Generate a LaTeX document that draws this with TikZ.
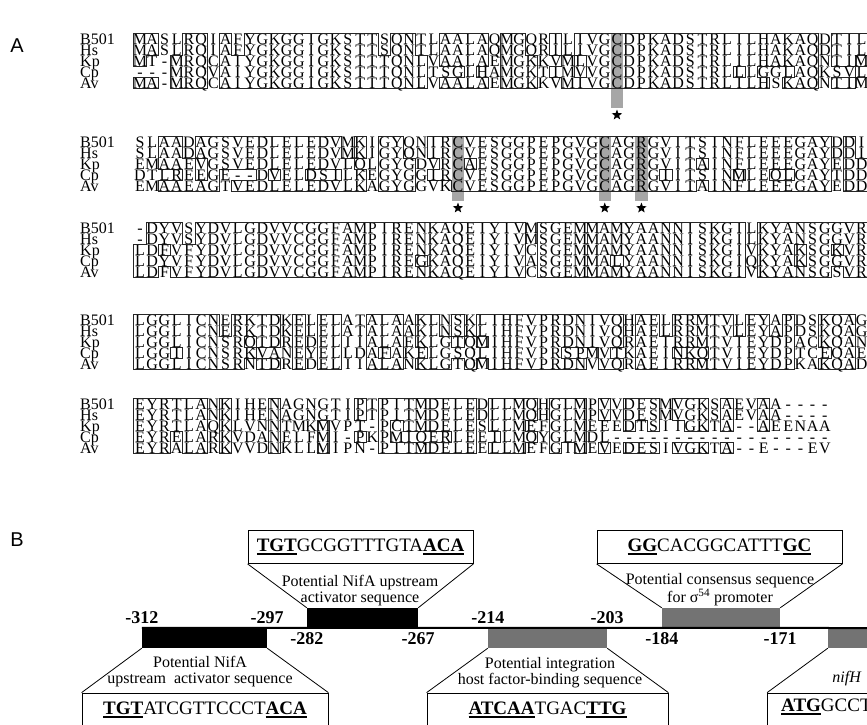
\documentclass[tikz,border=0pt]{standalone}
\usepackage{fontspec}
\setmainfont{Liberation Serif}
\newfontfamily\panelfont{Liberation Sans}
\usepackage{tikz}
\usetikzlibrary{shapes.geometric,positioning}

% alignment grid, 1 unit = 1pt
\newcommand{\colw}{12.23}
\newcommand{\rowh}{11}
\newcommand{\colzero}{140}

\newcommand{\ubf}[1]{\vtop{\hbox{\textbf{#1}}\kern1.8pt\hrule height 1.6pt}}

\newcommand{\putres}[4]{\node[res] (#1) at (#2,#3) {#4};}
\newcommand{\putname}[4]{\node[seqname] (#1) at (#2,#3) {#4};}
\newcommand{\putedge}[4]{\draw[boxline] (#1,#2) -- (#3,#4);}
\newcommand{\putshade}[4]{\fill[cshade] (#1,#2) rectangle (#3,#4);}
\newcommand{\putstar}[3]{\node[starmark] (#1) at (#2,#3) {};}

\ExplSyntaxOn
\int_new:N \g_aln_blk_int
\int_new:N \l_aln_len_int
\int_new:N \l_aln_cnt_int
\tl_new:N \l_aln_cons_tl
\tl_new:N \l_aln_x_tl
\tl_new:N \l_aln_y_tl
\clist_const:Nn \c_aln_names_clist { B501, Hs, Kp, Cp, Av }
\int_step_inline:nn { 5 } { \str_new:c { l_aln_row_ #1 _str } }

\cs_new:Npn \aln_item:nn #1#2
  { \exp_args:Nc \str_item:Nn { l_aln_row_ \int_eval:n {#1} _str } {#2} }
\cs_new:Npn \aln_if_marked:nnTF #1#2#3#4
  { \cs_if_exist:cTF { aln_m_ \int_use:N \g_aln_blk_int _ \int_eval:n {#1} _ \int_eval:n {#2} } {#3} {#4} }

% residue #1 of column #2 is consensus if at least three rows carry it
\cs_new_protected:Npn \aln_count:nn #1#2
  {
    \int_zero:N \l_aln_cnt_int
    \int_step_inline:nn { 5 }
      {
        \str_if_eq:eeT { \aln_item:nn {#1} {#2} } { \aln_item:nn {##1} {#2} }
          { \int_incr:N \l_aln_cnt_int }
      }
    \int_compare:nNnT { \l_aln_cnt_int } > { 2 }
      { \tl_set:Nx \l_aln_cons_tl { \aln_item:nn {#1} {#2} } }
  }
\cs_new_protected:Npn \aln_mark:n #1
  {
    \tl_clear:N \l_aln_cons_tl
    \int_step_inline:nn { 5 }
      {
        \str_if_eq:eeF { \aln_item:nn {##1} {#1} } { - }
          { \aln_count:nn {##1} {#1} }
      }
    \tl_if_empty:NF \l_aln_cons_tl
      {
        \int_step_inline:nn { 5 }
          {
            \str_if_eq:eeT { \aln_item:nn {##1} {#1} } { \l_aln_cons_tl }
              { \cs_gset:cpn { aln_m_ \int_use:N \g_aln_blk_int _ ##1 _ #1 } { } }
          }
      }
  }
\cs_new_protected:Npn \aln_edge:nnnn #1#2#3#4
  { \use:x { \exp_not:N \putedge { \fp_eval:n {#1} } { \fp_eval:n {#2} } { \fp_eval:n {#3} } { \fp_eval:n {#4} } } }

% one residue: letter, then the box sides facing unmarked neighbours
\cs_new_protected:Npn \aln_cell:nnn #1#2#3
  {
    \tl_set:Nx \l_aln_x_tl { \fp_eval:n { \colzero + ( #2 - 1 ) * \colw } }
    \tl_set:Nx \l_aln_y_tl { \fp_eval:n { #3 + ( #1 - 1 ) * \rowh } }
    \use:x
      {
        \exp_not:N \putres
          { r \int_use:N \g_aln_blk_int - #1 - #2 }
          { \l_aln_x_tl } { \fp_eval:n { \l_aln_y_tl + 5.2 } }
          { \aln_item:nn {#1} {#2} }
      }
    \aln_if_marked:nnTF {#1} {#2}
      {
        \aln_if_marked:nnTF {#1} { #2 - 1 } { }
          { \aln_edge:nnnn { \l_aln_x_tl - \colw / 2 } { \l_aln_y_tl - \rowh / 2 }
                           { \l_aln_x_tl - \colw / 2 } { \l_aln_y_tl + \rowh / 2 } }
        \aln_if_marked:nnTF {#1} { #2 + 1 } { }
          { \aln_edge:nnnn { \l_aln_x_tl + \colw / 2 } { \l_aln_y_tl - \rowh / 2 }
                           { \l_aln_x_tl + \colw / 2 } { \l_aln_y_tl + \rowh / 2 } }
        \aln_if_marked:nnTF { #1 - 1 } {#2} { }
          { \aln_edge:nnnn { \l_aln_x_tl - \colw / 2 } { \l_aln_y_tl - \rowh / 2 }
                           { \l_aln_x_tl + \colw / 2 } { \l_aln_y_tl - \rowh / 2 } }
        \aln_if_marked:nnTF { #1 + 1 } {#2} { }
          { \aln_edge:nnnn { \l_aln_x_tl - \colw / 2 } { \l_aln_y_tl + \rowh / 2 }
                           { \l_aln_x_tl + \colw / 2 } { \l_aln_y_tl + \rowh / 2 } }
      }
      { }
  }

% #1 y of first row, #2 the five rows, #3 shaded columns, #4 y of stars
\NewDocumentCommand \alnblock { m m m m }
  {
    \int_gincr:N \g_aln_blk_int
    \int_zero:N \l_aln_cnt_int
    \clist_map_inline:nn {#2}
      {
        \int_incr:N \l_aln_cnt_int
        \str_set:cn { l_aln_row_ \int_use:N \l_aln_cnt_int _str } {##1}
      }
    \int_set:Nn \l_aln_len_int { \exp_args:Nc \str_count:N { l_aln_row_1_str } }
    \clist_map_inline:nn {#3}
      {
        \use:x
          {
            \exp_not:N \putshade
              { \fp_eval:n { \colzero + ( ##1 - 1.5 ) * \colw } }
              { \fp_eval:n { #1 - \rowh / 2 } }
              { \fp_eval:n { \colzero + ( ##1 - 0.5 ) * \colw } }
              { \fp_eval:n { #4 - 7 } }
            \exp_not:N \putstar
              { st \int_use:N \g_aln_blk_int - ##1 }
              { \fp_eval:n { \colzero + ( ##1 - 1 ) * \colw } }
              { #4 }
          }
      }
    \int_step_inline:nn { 5 }
      {
        \use:x
          {
            \exp_not:N \putname { nm \int_use:N \g_aln_blk_int - ##1 }
              { 80 } { \fp_eval:n { #1 + ( ##1 - 1 ) * \rowh + 5.2 } }
              { \clist_item:Nn \c_aln_names_clist {##1} }
          }
      }
    \int_step_inline:nn { \l_aln_len_int } { \aln_mark:n {##1} }
    \int_step_inline:nn { \l_aln_len_int }
      { \int_step_inline:nn { 5 } { \aln_cell:nnn {####1} {##1} {#1} } }
  }
\ExplSyntaxOff

\begin{document}
\begin{tikzpicture}[x=1pt, y=-1pt,
  res/.style={inner sep=0pt, anchor=base, font=\fontsize{16}{16}\selectfont},
  seqname/.style={inner sep=0pt, anchor=base west, font=\fontsize{16}{16}\selectfont},
  boxline/.style={draw=black!85, line width=0.9pt, line cap=rect},
  cshade/.style={fill=black!35},
  starmark/.style={star, star points=5, star point ratio=2.4, fill=black, inner sep=0pt, minimum size=11pt},
  panel/.style={inner sep=0pt, font=\panelfont\fontsize{20}{20}\selectfont},
  seqbox/.style={draw, line width=0.8pt, minimum height=33pt, inner sep=0pt, font=\fontsize{19}{19}\selectfont},
  blackbar/.style={fill=black, minimum height=20pt, inner sep=0pt},
  greybar/.style={fill=black!55, minimum height=20pt, inner sep=0pt},
  note/.style={align=center, inner sep=0pt, font=\fontsize{16}{16}\selectfont},
  bpnum/.style={inner sep=0pt, font=\bfseries\fontsize{18}{18}\selectfont},
  trap/.style={line width=0.8pt},
  mainline/.style={line width=2pt},
  ]
\useasboundingbox (0,0) rectangle (867,724);
\clip (0,0) rectangle (867,724);

% A: alignment
\node[panel] (lblA) at (17,46) {A};
\alnblock{39}{MASLRQIAFYGKGGIGKSTTSQNTLAALAQMGQRILIVGCDPKADSTRLILHAKAQDTIL,
  MASLRQIAFYGKGGIGKSTTSQNTLAALAQMGQRILIVGCDPKADSTRLILHAKAQDTIL,
  MT-MRQCAIYGKGGIGKSTTTQNLVAALAEMGKKVMLVGCDPKADSTRLILHAKAQNTIM,
  ---MRQVAIYGKGGIGKSTTTQNLTSGLHAMGKTIMVVGCDPKADSTRLLLGGLAQKSVL,
  MA-MRQCAIYGKGGIGKSTTTQNLVAALAEMGKKVMIVGCDPKADSTRLILHSKAQNTIM}{40}{115}
\alnblock{142}{SLAADAGSVEDLELEDVMKIGYQNIRCVESGGPEPGVGCAGRGVITSINFLEEEGAYDDI,
  SLAADAGSVEDLELEDVMKIGYQNIRCVESGGPEPGVGCAGRGVITSINFLEEEGAYDDI,
  EMAAEVGSVEDLELEDVLQLGYGDVRCAESGGPEPGVGCAGRGVITAINFLEEEGAYEDD,
  DTLREEGE--DVELDSILKEGYGGIRCVESGGPEPGVGCAGRGIITSINMLEQLGAYTDD,
  EMAAEAGTVEDLELEDVLKAGYGGVKCVESGGPEPGVGCAGRGVITAINFLEEEGAYEDD}{27,39,42}{208}
\alnblock{228}{-DYVSYDVLGDVVCGGFAMPIRENKAQEIYIVMSGEMMAMYAANNISKGILKYANSGGVR,
  -DYVSYDVLGDVVCGGFAMPIRENKAQEIYIVMSGEMMAMYAANNISKGILKYANSGGVR,
  LDFVFYDVLGDVVCGGFAMPIRENKAQEIYIVCSGEMMAMYAANNISKGIVKYAKSGKVR,
  LDYVFYDVLGDVVCGGFAMPIREGKAQEIYIVASGEMMALYAANNISKGIQKYAKSGGVR,
  LDFVFYDVLGDVVCGGFAMPIRENKAQEIYIVCSGEMMAMYAANNISKGIVKYANSGSVR}{}{0}
\alnblock{320}{LGGLICNERKTDKELELATALAAKLNSKLIHFVPRDNIVQHAELRRMTVLEYAPDSKQAG,
  LGGLICNERKTDKELELATALAAKLNSKLIHFVPRDNIVQHAELRRMTVLEYAPDSKQAG,
  LGGLICNSRQTDREDELIIALAEKLGTQMIHFVPRDNIVQRAEIRRMTVIEYDPACKQAN,
  LGGIICNSRKVANEYELLDAFAKELGSQLIHFVPRSPMVTKAEINKQTVIEYDPTCEQAE,
  LGGLICNSRNTDREDELIIALANKLGTQMIHFVPRDNVVQRAEIRRMTVIEYDPKAKQAD}{}{0}
\alnblock{404}{EYRTLANKIHENAGNGTIPTPITMDELEDLLMQHGLMPVVDESMVGKSAEVAA----,
  EYRTLANKIHENAGNGTIPTPITMDELEDLLMQHGLMPVVDESMVGKSAEVAA----,
  EYRTLAQKLVNNTMKMVPT-PCTMDELESLLMEFGLMEEEDTSIIGKTA--AEENAA,
  EYRELARKVDANELFMI-PKPMIQERLEEILMQYGLMDL------------------,
  EYRALARKVVDNKLLMIPN-PITMDELEELLMEFGIMEVEDESIVGKTA--E---EV}{}{0}

% B: promoter region
\node[panel] (lblB) at (17,540) {B};
\node[blackbar, minimum width=111pt] (bar1) at (362.5,618) {};
\node[greybar, minimum width=118pt] (bar2) at (721,618) {};
\node[blackbar, minimum width=125pt] (bar3) at (204.5,638) {};
\node[greybar, minimum width=119pt] (bar4) at (547.5,638) {};
\node[greybar, minimum width=120pt] (bar5) at (888,638) {};
\coordinate (lineend) at (880,628);
\draw[mainline] (bar3.north west) -- (lineend);

\node[seqbox, minimum width=225pt] (top1) at (360.5,547) {\ubf{TGT}GCGGTTTGTA\ubf{ACA}};
\node[seqbox, minimum width=245pt] (top2) at (719.5,547) {\ubf{GG}CACGGCATTT\ubf{GC}};
\node[seqbox, minimum width=246pt] (bot1) at (205,709.5) {\ubf{TGT}ATCGTTCCCT\ubf{ACA}};
\node[seqbox, minimum width=241pt] (bot2) at (547.5,709.5) {\ubf{ATCAA}TGAC\ubf{TTG}};
\node[seqbox, minimum width=241pt] (bot3) at (888,709.5) {};
\node[inner sep=0pt, anchor=west, font=\fontsize{19}{19}\selectfont] (bot3t) at (781,707) {\ubf{ATG}GCCTT};

\draw[trap] (top1.south west) -- (bar1.north west);
\draw[trap] (top1.south east) -- (bar1.north east);
\draw[trap] (top2.south west) -- (bar2.north west);
\draw[trap] (top2.south east) -- (bar2.north east);
\draw[trap] (bar3.south west) -- (bot1.north west);
\draw[trap] (bar3.south east) -- (bot1.north east);
\draw[trap] (bar4.south west) -- (bot2.north west);
\draw[trap] (bar4.south east) -- (bot2.north east);
\draw[trap] (bar5.south west) -- (bot3.north west);

\node[note] (note1) at (360,591) {Potential NifA upstream\\activator sequence};
\node[note] (note2) at (720,590) {Potential consensus sequence\\for σ\textsuperscript{54} promoter};
\node[note] (note3) at (200,672) {Potential NifA\\upstream~ activator sequence};
\node[note] (note4) at (550,673) {Potential integration\\host factor-binding sequence};
\node[note] (note5) at (847,679) {\textit{nifH}};

\node[bpnum, above=4pt of bar3.north west] (n312) {-312};
\node[bpnum, above=4pt of bar3.north east] (n297) {-297};
\node[bpnum, below=4pt of bar1.south west] (n282) {-282};
\node[bpnum, below=4pt of bar1.south east] (n267) {-267};
\node[bpnum, above=4pt of bar4.north west] (n214) {-214};
\node[bpnum, above=4pt of bar4.north east] (n203) {-203};
\node[bpnum, below=4pt of bar2.south west] (n184) {-184};
\node[bpnum, below=4pt of bar2.south east] (n171) {-171};
\end{tikzpicture}
\end{document}
